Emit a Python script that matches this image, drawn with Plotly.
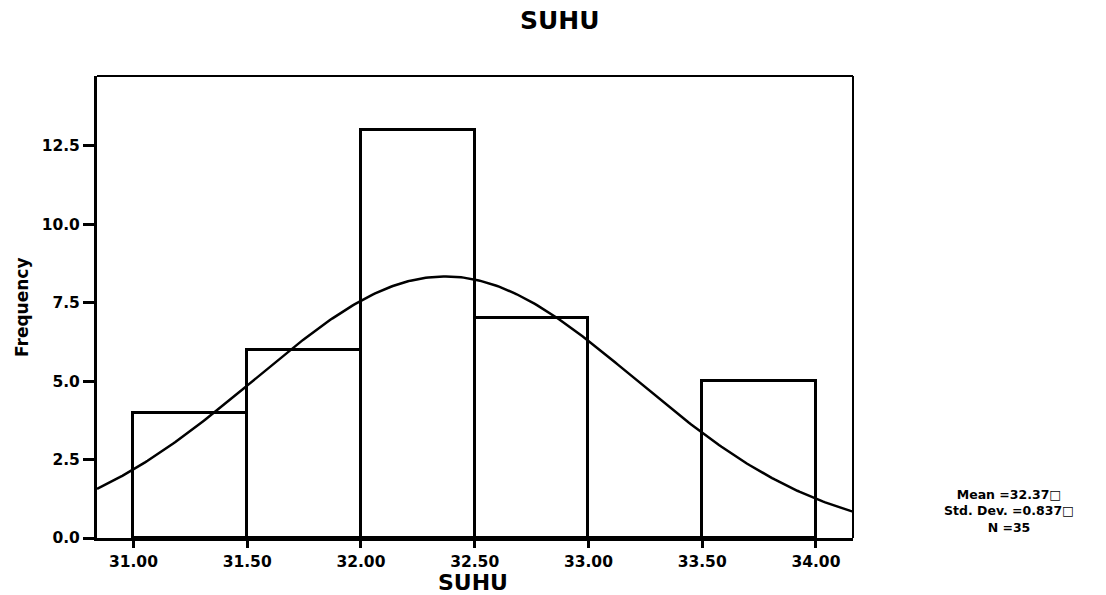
import numpy as np
import plotly.graph_objects as go

# Histogram data
bin_left = [31.0, 31.5, 32.0, 32.5, 33.0, 33.5]
counts = [4, 6, 13, 7, 0, 5]
bin_width = 0.5

# Summary statistics shown on the chart
mean = 32.37
std = 0.837
n = 35

x_ticks = [31.0, 31.5, 32.0, 32.5, 33.0, 33.5, 34.0]
y_ticks = [0.0, 2.5, 5.0, 7.5, 10.0, 12.5]
x_range = [30.84, 34.163]
y_range = [0, 14.73]

FONT = "DejaVu Sans"

# Normal curve implied by mean / std / N
xc = np.linspace(x_range[0], x_range[1], 300)
yc = n * bin_width / (std * np.sqrt(2 * np.pi)) * np.exp(-0.5 * ((xc - mean) / std) ** 2)

fig = go.Figure()
centers = [b + bin_width / 2 for b in bin_left]
fig.add_trace(go.Bar(
    x=centers, y=counts, width=bin_width,
    marker=dict(color="rgba(255,255,255,0)", line=dict(color="black", width=3)),
    hoverinfo="skip", showlegend=False,
))
fig.add_trace(go.Scatter(
    x=xc, y=yc, mode="lines", line=dict(color="black", width=2.5),
    hoverinfo="skip", showlegend=False,
))

fig.update_layout(
    width=1106, height=595,
    margin=dict(l=97, r=253, t=76, b=57),
    paper_bgcolor="white", plot_bgcolor="white",
    font=dict(family=FONT, color="black", size=15, weight="bold"),
    bargap=0,
)
fig.update_xaxes(
    range=x_range, tickvals=x_ticks, ticktext=[f"{v:.2f}" for v in x_ticks],
    ticks="outside", ticklen=7, tickwidth=3, tickcolor="black",
    showline=True, linecolor="black", linewidth=3, mirror=False,
    showgrid=False, zeroline=False,
    tickfont=dict(family=FONT, size=15.5, weight="bold"),
)
fig.update_yaxes(
    range=y_range, tickvals=y_ticks, ticktext=[f"{v:.1f}" for v in y_ticks],
    ticks="outside", ticklen=11, tickwidth=3, tickcolor="black",
    showline=True, linecolor="black", linewidth=3, mirror=False,
    showgrid=False, zeroline=False,
    tickfont=dict(family=FONT, size=15.5, weight="bold"),
)
# thinner top / right border
fig.add_shape(type="line", xref="paper", yref="paper", x0=0, x1=1, y0=1, y1=1,
              line=dict(color="black", width=2))
fig.add_shape(type="line", xref="paper", yref="paper", x0=1, x1=1, y0=0, y1=1,
              line=dict(color="black", width=2))

W = 1106 - 97 - 253
H = 595 - 76 - 57

def px(xp):
    return (xp - 97) / W

def py(yp):
    return (595 - 57 - yp) / H

anns = [
    dict(text="SUHU", x=px(560), y=py(21), size=25),
    dict(text="SUHU", x=px(473), y=py(582), size=22),
    dict(text=f"Mean ={mean:.2f}□<br>Std. Dev. ={std:.3f}□<br>N ={n}",
         x=px(1009), y=py(511), size=12.5),
]
for a in anns:
    fig.add_annotation(text=a["text"], x=a["x"], y=a["y"], xref="paper", yref="paper",
                       showarrow=False, xanchor="center", yanchor="middle", align="center",
                       font=dict(family=FONT, size=a["size"], weight="bold", color="black"))
fig.add_annotation(text="Frequency", x=px(22), y=py(307), xref="paper", yref="paper",
                   showarrow=False, textangle=-90, xanchor="center", yanchor="middle",
                   font=dict(family=FONT, size=17, weight="bold", color="black"))

fig.write_html("out.html")
